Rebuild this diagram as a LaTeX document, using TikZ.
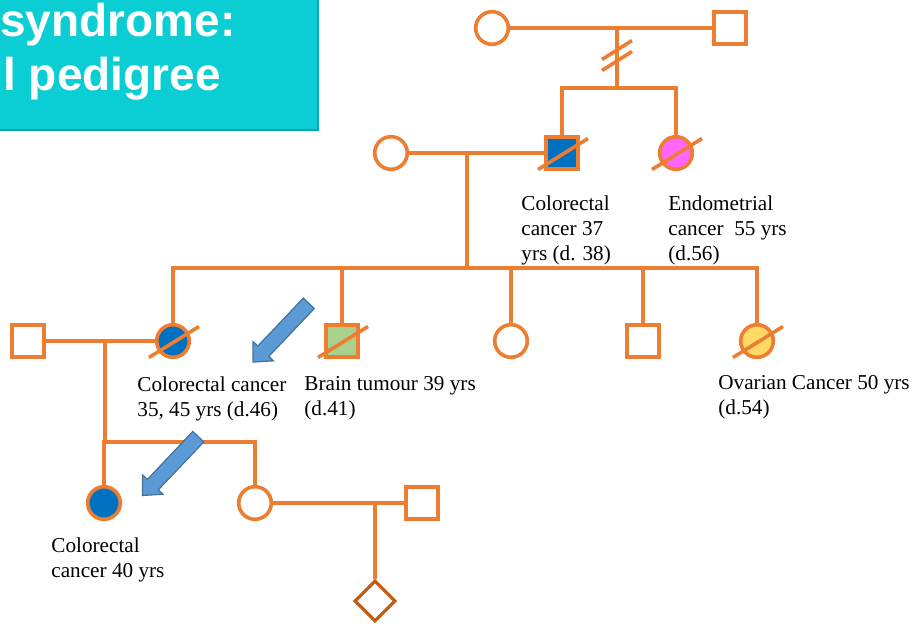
\documentclass[tikz,border=0pt]{standalone}
\usepackage{fontspec}
\setmainfont{Liberation Serif}
\newfontfamily\headfont{Liberation Sans}
\usetikzlibrary{shapes.geometric}
\definecolor{pedorange}{HTML}{ED7D31}
\definecolor{pedbrown}{HTML}{C55A11}
\definecolor{crcblue}{HTML}{0070C0}
\definecolor{endopink}{HTML}{FF66FF}
\definecolor{brngreen}{HTML}{A9D18E}
\definecolor{ovyellow}{HTML}{FFD966}
\definecolor{titleteal}{HTML}{0BCED4}
\definecolor{ptrblue}{HTML}{5B9BD5}
\definecolor{ptredge}{HTML}{41719C}

\begin{document}
\begin{tikzpicture}[x=0.5pt, y=-0.5pt,
    link/.style={draw=pedorange, line width=1.8pt},
    male/.style={link, rectangle, fill=white, minimum size=15.8pt, inner sep=0pt},
    female/.style={link, circle, fill=white, minimum size=16.3pt, inner sep=0pt},
    unknown/.style={draw=pedbrown, line width=1.6pt, diamond, fill=white, minimum size=20.5pt, inner sep=0pt},
    info/.style={anchor=north west, align=left, inner sep=0pt, font=\fontsize{10.6}{12.5}\selectfont},
    titletext/.style={anchor=base west, inner sep=0pt, text=white, font=\headfont\bfseries\fontsize{23}{28}\selectfont},
    pointer/.style={fill=ptrblue, draw=ptredge, line width=0.6pt, line join=miter}]
    \useasboundingbox (0,0) rectangle (917,623);

    % Title box
    \filldraw[fill=titleteal, draw=titleteal!80!black, line width=0.6pt] (-5,-5) rectangle (318,130);
    \node[titletext] (t1) at (0,36) {syndrome:};
    \node[titletext] (t2) at (3,90) {l pedigree};

    % Generation I
    \node[female] (g1f) at (492,28) {};
    \node[male] (g1m) at (730,28) {};
    \coordinate (m1) at (617,28);
    \coordinate (j1) at (617,88);
    \coordinate (brk) at (617,56);
    \draw[link] (g1f) -- (g1m);
    \draw[link] (m1) -- (j1);
    \foreach \dy in {-6,5}
        \draw[link] ([shift={(-15,9.5+\dy)}]brk) -- ([shift={(15,-9.5+\dy)}]brk);

    % Generation II
    \node[female] (g2f) at (391,153) {};
    \node[male, fill=crcblue] (s2) at (562,153) {};
    \node[female, fill=endopink] (d2) at (676,153) {};
    \draw[link] (s2.north) |- (j1) -| (d2.north);
    \draw[link] (g2f) -- (s2);
    \coordinate (m2) at (467,153);
    \coordinate (j2) at (467,268);
    \draw[link] (m2) -- (j2);

    % Generation III
    \node[male] (h3) at (28,341) {};
    \node[female, fill=crcblue] (c1) at (173,341) {};
    \node[male, fill=brngreen] (c2) at (342,341) {};
    \node[female] (c3) at (511,341) {};
    \node[male] (c4) at (643,341) {};
    \node[female, fill=ovyellow] (c5) at (757,341) {};
    \draw[link] (c1.north) |- (j2) -| (c5.north);
    \foreach \c in {c2,c3,c4}
        \draw[link] (\c.north) -- (\c.north |- j2);
    \draw[link] (h3) -- (c1);
    \coordinate (m3) at (105,341);
    \coordinate (j3) at (105,442);
    \draw[link] (m3) -- (j3);

    % Generation IV
    \node[female, fill=crcblue] (e1) at (104,503) {};
    \node[female] (e2) at (255,503) {};
    \node[male] (h4) at (422,503) {};
    \node[unknown] (p1) at (375,601) {};
    \draw[link] (e1.north) |- (j3) -| (e2.north);
    \draw[link] (e2) -- (h4);
    \coordinate (m4) at (375,503);
    \draw[link] (m4) -- (p1);

    % Deceased
    \foreach \n in {s2,d2,c1,c2,c5}
        \draw[link] ([shift={(-24,16.5)}]\n.center) -- ([shift={(26,-14.5)}]\n.center);

    % Pointers
    \foreach \x/\y in {308.8/303.3, 198.3/436.7}
        \filldraw[pointer, shift={(\x,\y)}] (5.5,5.2) -- (-40.0,53.1) -- (-35.3,57.5)
            -- (-55.8,58.8) -- (-55.7,38.3) -- (-50.9,42.7) -- (-5.5,-5.2) -- cycle;

    % Labels
    \node[info] (ls2) at (521,195) {Colorectal\\cancer 37\\yrs (d. 38)};
    \node[info] (ld2) at (668,195) {Endometrial\\cancer\ \ 55 yrs\\(d.56)};
    \node[info] (lc1) at (137,376) {Colorectal cancer\\35, 45 yrs (d.46)};
    \node[info] (lc2) at (304,376) {Brain tumour 39 yrs\\(d.41)};
    \node[info] (lc5) at (718,375) {Ovarian Cancer 50 yrs\\(d.54)};
    \node[info] (le1) at (51,537) {Colorectal\\cancer 40 yrs};
\end{tikzpicture}
\end{document}
